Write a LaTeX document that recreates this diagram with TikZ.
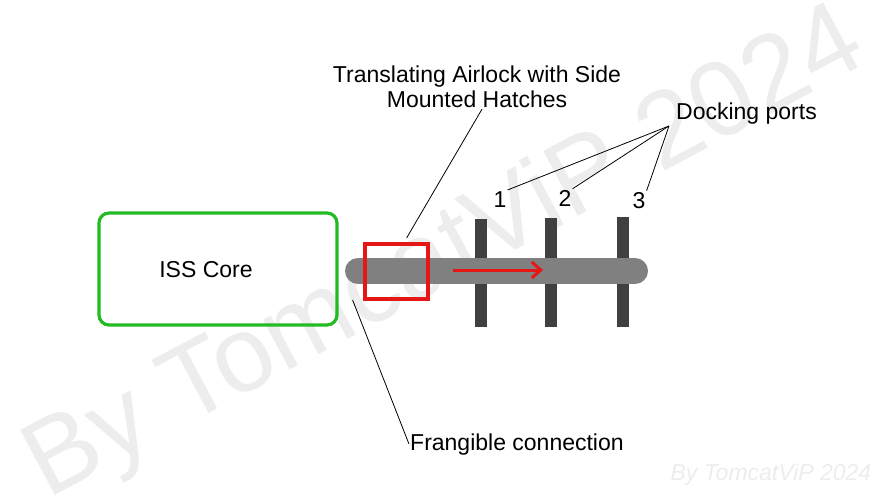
\documentclass[tikz,border=0pt]{standalone}
\usepackage{fontspec}
\setmainfont{Liberation Sans}
\usetikzlibrary{calc,arrows.meta}

\definecolor{coregreen}{RGB}{34,187,34}
\definecolor{tubegray}{RGB}{128,128,128}
\definecolor{portgray}{RGB}{64,64,64}
\definecolor{lockred}{RGB}{228,22,22}
\definecolor{markgray}{RGB}{237,237,237}

\tikzset{
  label text/.style={inner sep=1pt, font=\fontsize{23}{25}\selectfont},
  leader/.style={line width=0.8pt, black},
  corebox/.style={draw=coregreen, line width=3.2pt, rounded corners=10pt,
    minimum width=238pt, minimum height=112pt},
  portbar/.style={fill=portgray}
}

\begin{document}
\begin{tikzpicture}[x=1pt,y=-1pt]
    \useasboundingbox (0,0) rectangle (870,500);
    \node[rotate=28, text=markgray, font=\fontsize{107}{107}\selectfont] (mark) at (446,256) {By TomcatViP 2024};
    \node[anchor=base west, text=markgray, font=\fontsize{23}{23}\selectfont\itshape] (small mark) at (667,480) {By TomcatViP 2024};

    \node[corebox] (core) at (218,269) {};
    \node[label text] (core label) at (206,270) {ISS Core};

    \foreach \x/\top in {481/219, 551/218, 623/217}
        \fill[portbar] (\x-6,\top) rectangle (\x+6,327);
    \draw[tubegray, line width=26pt, line cap=round] (358,271) -- (635,271);
    \draw[lockred, line width=3.5pt] (365,244) rectangle (428,299);
    \draw[lockred, line width=3pt, -{Straight Barb[length=9pt,width=16pt]}] (453,270) -- (543,270);

    \node[label text, align=center] (lock) at (477,87) {Translating Airlock with Side\\Mounted Hatches};
    \node[label text, anchor=base west] (ports) at (675,120) {Docking ports};
    \node[label text, anchor=base] (p1) at (500,207) {1};
    \node[label text, anchor=base] (p2) at (565,206) {2};
    \node[label text, anchor=base] (p3) at (639,208) {3};
    \node[label text, anchor=base west] (frangible) at (409,450) {Frangible connection};

    \coordinate (ports tip) at ([xshift=-6pt]ports.south west);
    \coordinate (lock tip) at ($(core.east)+(68,-31)$);
    \coordinate (frangible tip) at ($(core.east)+(14,31)$);
    \foreach \p in {p1,p2,p3}
        \draw[leader] (ports tip) -- (\p.north east);
    \draw[leader] ([xshift=5pt]lock.south) -- (lock tip);
    \draw[leader] (frangible.west) -- (frangible tip);
\end{tikzpicture}
\end{document}
